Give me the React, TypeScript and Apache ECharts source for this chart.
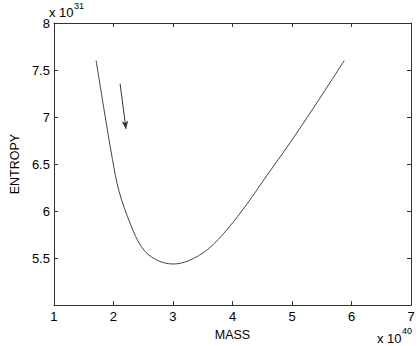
import React, { useEffect, useRef } from "react";
import * as echarts from "echarts";

const massX = [1.708, 1.845, 1.983, 2.094, 2.288, 2.48, 2.702, 3.0, 3.254, 3.586, 3.917, 4.249, 4.58, 4.966, 5.354, 5.878];
const entropyY = [7.6, 7.066, 6.55, 6.21, 5.856, 5.611, 5.487, 5.437, 5.47, 5.593, 5.81, 6.08, 6.38, 6.725, 7.09, 7.6];
const arrowStart = [2.111, 7.355];
const arrowEnd = [2.21, 6.874];
const xRange = [1, 7];
const yRange = [5, 8];

const FONT = "'Liberation Sans', Arial, Helvetica, sans-serif";
const AX = "#333";

export default function App() {
  const ref = useRef<HTMLDivElement>(null);
  useEffect(() => {
    document.body.style.margin = "0";
    const chart = echarts.init(ref.current!, null, { renderer: "svg" });
    const tick = { show: true, inside: true, length: 4, lineStyle: { color: AX } };
    const line = { show: true, lineStyle: { color: AX, width: 1 } };
    chart.setOption({
      animation: false,
      backgroundColor: "#fff",
      textStyle: { fontFamily: FONT },
      grid: { left: 49, right: 7, top: 23, bottom: 38 },
      xAxis: [
        {
          type: "value", position: "bottom", min: xRange[0], max: xRange[1], interval: 1,
          axisLine: line, axisTick: tick, splitLine: { show: false },
          axisLabel: { color: "#000", fontSize: 13, fontFamily: FONT, margin: 5 },
          name: "MASS", nameLocation: "middle", nameGap: 22,
          nameTextStyle: { color: "#000", fontSize: 12.5, fontFamily: FONT },
        },
        {
          type: "value", position: "top", min: xRange[0], max: xRange[1], interval: 1,
          axisLine: line, axisTick: tick, splitLine: { show: false }, axisLabel: { show: false },
        },
      ],
      yAxis: [
        {
          type: "value", position: "left", min: yRange[0], max: yRange[1], interval: 0.5,
          axisLine: line, axisTick: tick, splitLine: { show: false },
          axisLabel: {
            color: "#000", fontSize: 13, fontFamily: FONT, margin: 4,
            formatter: (v: number) => (v === yRange[0] ? "" : String(v)),
          },
          name: "ENTROPY", nameLocation: "middle", nameGap: 31, nameRotate: 90,
          nameTextStyle: { color: "#000", fontSize: 12.5, fontFamily: FONT },
        },
        {
          type: "value", position: "right", min: yRange[0], max: yRange[1], interval: 0.5,
          axisLine: line, axisTick: tick, splitLine: { show: false }, axisLabel: { show: false },
        },
      ],
      graphic: [
        { type: "text", left: 49, top: 6, style: { text: "x 10", fontSize: 13, fontFamily: FONT, fill: "#000" } },
        { type: "text", left: 74, top: 1, style: { text: "31", fontSize: 9, fontFamily: FONT, fill: "#000" } },
        { type: "text", left: 377, top: 332, style: { text: "x 10", fontSize: 13, fontFamily: FONT, fill: "#000" } },
        { type: "text", left: 402, top: 326, style: { text: "40", fontSize: 9, fontFamily: FONT, fill: "#000" } },
      ],
      series: [
        {
          type: "line",
          data: massX.map((x, i) => [x, entropyY[i]]),
          smooth: 0.35,
          showSymbol: false,
          symbol: "none",
          lineStyle: { color: "#444", width: 1 },
          markLine: {
            silent: true,
            symbol: ["none", "arrow"],
            symbolSize: [5, 8],
            label: { show: false },
            lineStyle: { color: "#333", width: 1, type: "solid" },
            data: [[{ coord: arrowStart }, { coord: arrowEnd }]],
          },
        },
      ],
    });
    return () => chart.dispose();
  }, []);
  return <div ref={ref} style={{ width: 418, height: 346 }} />;
}
